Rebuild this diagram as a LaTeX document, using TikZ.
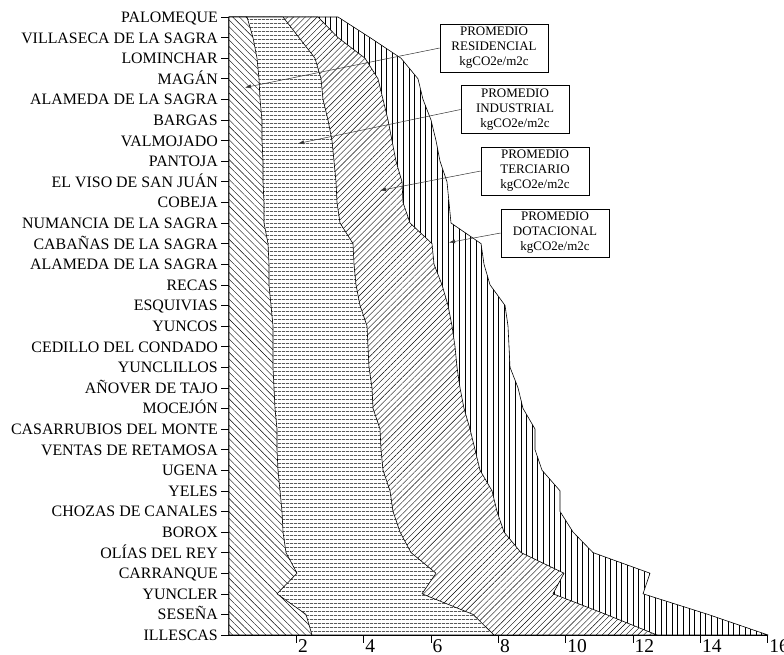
\documentclass[tikz,border=0pt]{standalone}
\usepackage{fontspec}
\setmainfont{Liberation Serif}
\usetikzlibrary{patterns.meta,arrows.meta}
\begin{document}
\begin{tikzpicture}[x=1pt,y=-1pt,
  edge/.style={draw=black,line width=0.6pt,line join=round},
  resarea/.style={preaction={fill=white},pattern={Lines[angle=-45,distance=4.7pt,line width=0.4pt]}},
  indarea/.style={preaction={fill=white},pattern={Lines[angle=0,distance=4pt,line width=0.4pt]}},
  terarea/.style={preaction={fill=white},pattern={Lines[angle=45,distance=4.2pt,line width=0.4pt]}},
  dotarea/.style={preaction={fill=white},pattern={Lines[angle=90,distance=5.6pt,line width=0.4pt]}},
  ylab/.style={anchor=base east,inner sep=0pt,font=\fontsize{15.9}{18}\selectfont},
  xlab/.style={anchor=base west,inner sep=0pt,font=\fontsize{19.5}{22}\selectfont},
  tickline/.style={draw=black,line width=0.6pt},
  box/.style={draw=black,line width=0.6pt,fill=white,minimum width=108pt,minimum height=48pt,
    align=center,inner sep=0pt,font=\fontsize{13}{15}\selectfont},
  callout/.style={draw=black!80,line width=0.5pt,-{Latex[length=6pt,width=4pt]}}
]
\useasboundingbox (0,0) rectangle (784,655);

% boundaries (cumulative), one value per row
\foreach \nm/\lst in {
  R/{247,253,257,259,260,262,262,263,263,264,264,268,269,269,271,273,273,273,274,275,277,277,278,280,282,283,286,297,277,306,312},
  I/{283,299,315,321,323,328,332,334,336,337,340,353,354,356,360,367,368,369,372,373,380,381,383,390,393,400,411,436,422,473,494},
  T/{318,338,365,378,383,388,392,396,402,403,410,432,434,442,448,452,455,457,460,464,470,475,480,492,497,504,521,564,553,606,657},
  D/{338,370,401,418,423,431,436,440,447,449,451,481,484,490,505,508,509,510,518,523,535,535,542,560,560,573,593,650,643,708,768}}{
  \foreach \x [count=\i from 0] in \lst {
    \coordinate (\nm\i) at ({\x},{17+\i*20.6});
  }
}
\coordinate (top0) at (229,17);
\coordinate (bot0) at (229,635);

% stacked areas, outermost first
\path[dotarea,edge] (top0) \foreach \i in {0,...,30}{ -- (D\i)} -- (bot0) -- cycle;
\path[terarea,edge] (top0) \foreach \i in {0,...,30}{ -- (T\i)} -- (bot0) -- cycle;
\path[indarea,edge] (top0) \foreach \i in {0,...,30}{ -- (I\i)} -- (bot0) -- cycle;
\path[resarea,edge] (top0) \foreach \i in {0,...,30}{ -- (R\i)} -- (bot0) -- cycle;

% y axis labels and ticks
\foreach \lab [count=\i from 0] in {PALOMEQUE,VILLASECA DE LA SAGRA,LOMINCHAR,MAGÁN,ALAMEDA DE LA SAGRA,BARGAS,VALMOJADO,PANTOJA,EL VISO DE SAN JUÁN,COBEJA,NUMANCIA DE LA SAGRA,CABAÑAS DE LA SAGRA,ALAMEDA DE LA SAGRA,RECAS,ESQUIVIAS,YUNCOS,CEDILLO DEL CONDADO,YUNCLILLOS,AÑOVER DE TAJO,MOCEJÓN,CASARRUBIOS DEL MONTE,VENTAS DE RETAMOSA,UGENA,YELES,CHOZAS DE CANALES,BOROX,OLÍAS DEL REY,CARRANQUE,YUNCLER,SESEÑA,ILLESCAS}{
  \node[ylab] (L\i) at (218,{17+\i*20.6+5.5}) {\lab};
  \draw[tickline] (221,{17+\i*20.6}) -- (229,{17+\i*20.6});
}

% x axis
\draw[tickline] (221,635) -- (768,635);
\foreach \v in {2,4,...,16}{
  \draw[tickline] ({229+33.67*\v},635) -- ({229+33.67*\v},643);
  \node[xlab] (X\v) at ({229+33.67*\v+1.5},652) {\v};
}

% callouts
\node[box] (B1) at (494,48) {PROMEDIO\\RESIDENCIAL\\kgCO2e/m2c};
\node[box] (B2) at (515,109.5) {PROMEDIO\\INDUSTRIAL\\kgCO2e/m2c};
\node[box] (B3) at (535,171) {PROMEDIO\\TERCIARIO\\kgCO2e/m2c};
\node[box] (B4) at (555,233) {PROMEDIO\\DOTACIONAL\\kgCO2e/m2c};
\coordinate (a1) at (245,87.5);
\coordinate (a2) at (298,143.5);
\coordinate (a3) at (380,190.5);
\coordinate (a4) at (449,242.5);
\draw[callout] (B1.west) -- (a1);
\draw[callout] (B2.west) -- (a2);
\draw[callout] (B3.west) -- (a3);
\draw[callout] (B4.west) -- (a4);
\end{tikzpicture}
\end{document}
